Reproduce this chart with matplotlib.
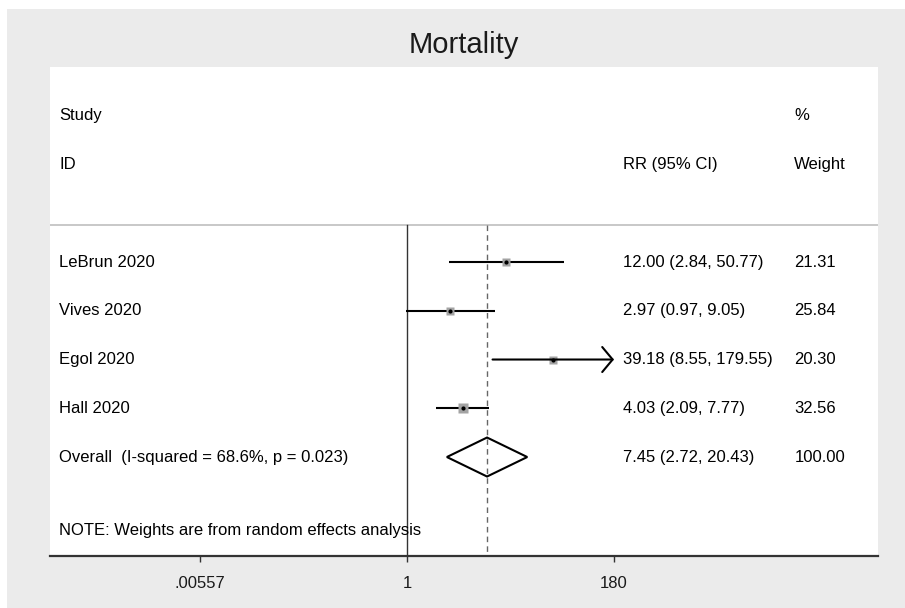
import numpy as np
import matplotlib
matplotlib.use("Agg")
import matplotlib.pyplot as plt
from matplotlib.patches import Rectangle, Polygon

plt.rcParams["font.family"] = ["Liberation Sans", "DejaVu Sans"]

# datos
estudios = ["LeBrun 2020", "Vives 2020", "Egol 2020", "Hall 2020"]
rr = [12.00, 2.97, 39.18, 4.03]
ci_low = [2.84, 0.97, 8.55, 2.09]
ci_high = [50.77, 9.05, 179.55, 7.77]
pesos = [21.31, 25.84, 20.30, 32.56]
overall = (7.45, 2.72, 20.43)
overall_label = "Overall  (I-squared = 68.6%, p = 0.023)"
ticks = [0.00557, 1, 180]
tick_labels = [".00557", "1", "180"]

W, H = 905, 608
fig = plt.figure(figsize=(W / 100, H / 100), dpi=100, facecolor="white")
fig.patches.append(Rectangle((7 / W, 0), 1, (H - 9) / H, transform=fig.transFigure,
                             facecolor="#ebebeb", edgecolor="none", zorder=-10))
fig.text((50 + 878) / 2 / W, 1 - 45 / H, "Mortality", ha="center", va="center",
         fontsize=21, color="#1a1a1a")

ax = fig.add_axes([50 / W, (H - 556) / H, 828 / W, 489 / H])
ax.set_zorder(5)
ax.set_facecolor("white")
ax.set_xscale("log")
ax.set_xlim(np.exp(-8.956), np.exp(11.816))
ax.set_ylim(6.03, -4.0)

# rejilla de referencia
sep = -0.76
ax.axhline(sep, color="#c4c4c4", lw=1.3)
ax.plot([1, 1], [sep, 6.03], color="#333333", lw=1.0)
ax.plot([overall[0]] * 2, [sep, 6.03], color="#666666", lw=1.0, ls=(0, (4, 3)))

# estudios
for i, (m, lo, hi, w) in enumerate(zip(rr, ci_low, ci_high, pesos)):
    if hi >= ticks[-1] * 0.99:
        ax.annotate("", xy=(ticks[-1], i), xytext=(lo, i),
                    arrowprops=dict(arrowstyle="->,head_length=0.75,head_width=0.9",
                                    color="black", lw=1.5, shrinkA=0, shrinkB=0))
    else:
        ax.plot([lo, hi], [i, i], color="black", lw=1.5, solid_capstyle="butt")
    ax.plot(m, i, marker="s", ms=1.26 * np.sqrt(w), color="#a3a3a3", mec="none")
    ax.plot(m, i, marker="o", ms=3.0, color="black", mec="none")

# diamante global
yo = len(estudios)
ax.add_patch(Polygon([[overall[1], yo], [overall[0], yo - 0.4],
                      [overall[2], yo], [overall[0], yo + 0.4]],
                     closed=True, fill=False, edgecolor="black", lw=1.5))

# columnas de texto
fs = 12
tx = ax.get_yaxis_transform()
x_id, x_rr, x_w = 0.011, 0.692, 0.899
ax.text(x_id, -3, "Study", transform=tx, va="center", fontsize=fs)
ax.text(x_id, -2, "ID", transform=tx, va="center", fontsize=fs)
ax.text(x_rr, -2, "RR (95% CI)", transform=tx, va="center", fontsize=fs)
ax.text(x_w, -3, "%", transform=tx, va="center", fontsize=fs)
ax.text(x_w, -2, "Weight", transform=tx, va="center", fontsize=fs)
for i, nombre in enumerate(estudios):
    ax.text(x_id, i, nombre, transform=tx, va="center", fontsize=fs)
    ax.text(x_rr, i, f"{rr[i]:.2f} ({ci_low[i]:.2f}, {ci_high[i]:.2f})",
            transform=tx, va="center", fontsize=fs)
    ax.text(x_w, i, f"{pesos[i]:.2f}", transform=tx, va="center", fontsize=fs)
ax.text(x_id, yo, overall_label, transform=tx, va="center", fontsize=fs)
ax.text(x_rr, yo, f"{overall[0]:.2f} ({overall[1]:.2f}, {overall[2]:.2f})",
        transform=tx, va="center", fontsize=fs)
ax.text(x_w, yo, "100.00", transform=tx, va="center", fontsize=fs)
ax.text(x_id, 5.5, "NOTE: Weights are from random effects analysis",
        transform=tx, va="center", fontsize=fs)

# ejes
for s in ["top", "left", "right"]:
    ax.spines[s].set_visible(False)
ax.spines["bottom"].set_color("#333333")
ax.spines["bottom"].set_linewidth(1.6)
ax.set_yticks([])
ax.set_xticks(ticks)
ax.set_xticklabels(tick_labels)
ax.xaxis.set_minor_locator(matplotlib.ticker.NullLocator())
ax.tick_params(axis="x", length=4.5, width=1, color="#333333", pad=10,
               labelsize=fs, labelcolor="#1a1a1a")

fig.savefig("out.png", dpi=100, facecolor=fig.get_facecolor())
